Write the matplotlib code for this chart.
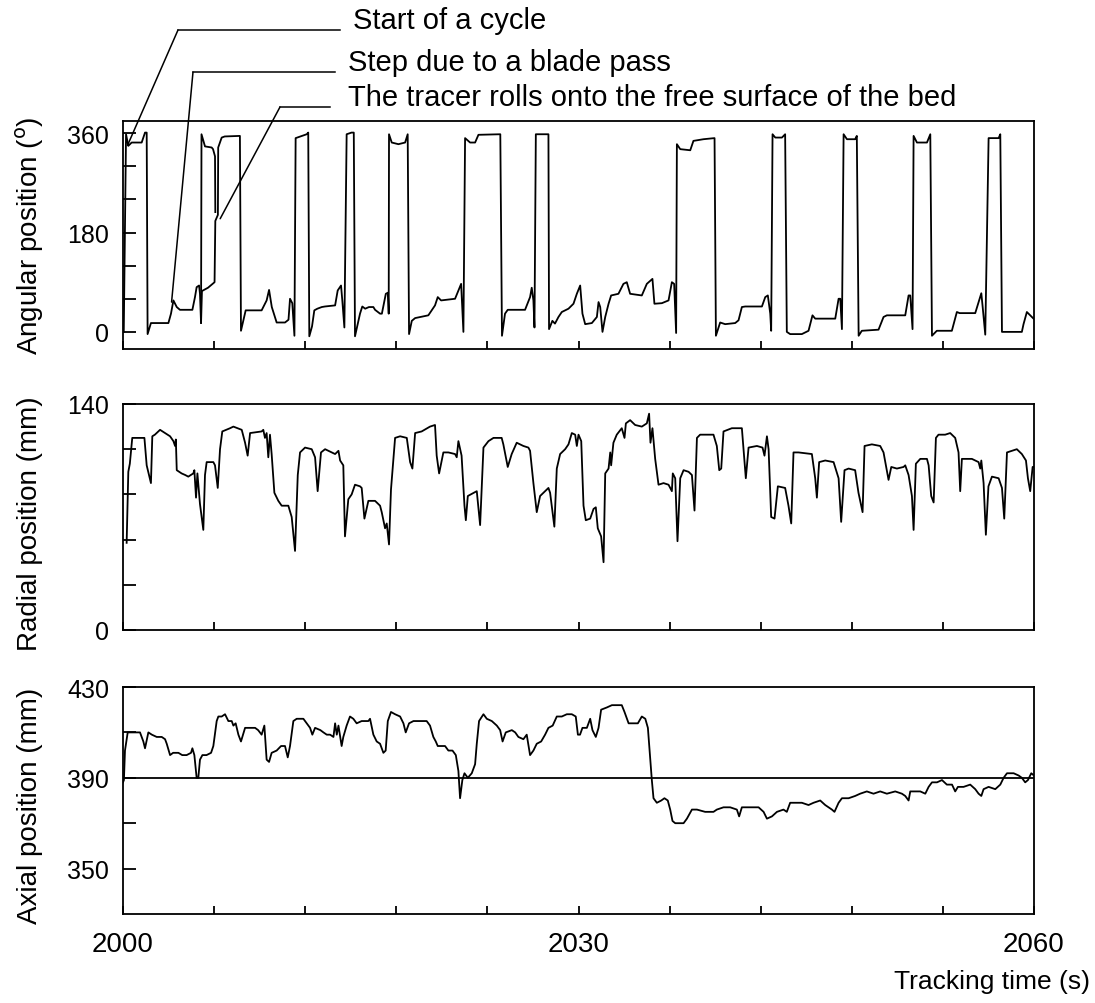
import matplotlib
matplotlib.use("Agg")
import matplotlib.pyplot as plt

plt.rcParams['font.family'] = ['Liberation Sans', 'DejaVu Sans']

# angular position (deg) vs tracking time (s)
ang_t = [2000.05, 2000.2, 2000.35, 2000.57, 2001.23, 2001.45, 2001.56, 2001.62, 2001.84, 2002.99,
         2003.16, 2003.32, 2003.54, 2003.75, 2004.57, 2004.74, 2004.85, 2005.01, 2005.07, 2005.14,
         2005.2, 2005.6, 2006.03, 2006.08, 2006.25, 2006.27, 2006.5, 2006.7, 2007.7, 2007.77,
         2008.08, 2009.13, 2009.46, 2009.62, 2009.8, 2010.12, 2010.67, 2010.9, 2011.0, 2011.15,
         2011.29, 2011.37, 2012.1, 2012.2, 2012.27, 2012.45, 2012.6, 2012.8, 2013.09, 2013.3,
         2013.97, 2014.14, 2014.36, 2014.45, 2014.58, 2014.73, 2015.05, 2015.2, 2015.28, 2015.61,
         2015.76, 2015.95, 2016.2, 2016.49, 2016.6, 2016.93, 2017.05, 2017.22, 2017.31, 2017.45,
         2017.5, 2017.52, 2017.7, 2018.14, 2018.58, 2018.75, 2018.84, 2019.02, 2019.24, 2020.11,
         2020.55, 2020.73, 2020.95, 2021.87, 2022.09, 2022.27, 2022.42, 2022.53, 2022.86, 2023.19,
         2023.41, 2024.73, 2024.85, 2024.96, 2025.16, 2025.34, 2026.48, 2026.81, 2026.92, 2027.03,
         2027.1, 2027.19, 2028.02, 2028.06, 2028.28, 2028.45, 2028.68, 2028.9, 2029.34, 2029.67,
         2029.89, 2030.11, 2030.26, 2030.44, 2030.88, 2031.21, 2031.32, 2031.43, 2031.58, 2031.76,
         2031.98, 2032.15, 2032.63, 2032.96, 2033.18, 2033.4, 2034.17, 2034.5, 2034.87, 2035.0,
         2035.49, 2035.93, 2036.15, 2036.3, 2036.43, 2036.48, 2036.7, 2037.36, 2037.57, 2038.23,
         2038.96, 2039.05, 2039.33, 2039.66, 2040.32, 2040.54, 2040.76, 2040.98, 2042.08, 2042.3,
         2042.47, 2042.63, 2042.69, 2042.78, 2042.96, 2043.4, 2043.61, 2043.72, 2043.94, 2044.71,
         2045.15, 2045.41, 2045.59, 2046.91, 2047.13, 2047.24, 2047.35, 2047.46, 2047.68, 2048.22,
         2048.33, 2048.45, 2048.66, 2049.76, 2050.09, 2050.31, 2051.52, 2051.74, 2051.85, 2052.0,
         2052.07, 2052.29, 2052.95, 2053.17, 2053.28, 2053.6, 2054.59, 2054.92, 2055.1, 2056.13,
         2056.53, 2056.62, 2056.79, 2057.01, 2057.67, 2057.78, 2057.89, 2058.3, 2059.2, 2059.31,
         2059.53, 2059.75, 2059.97]
ang_v = [0, 358, 337, 343, 343, 361, 361, -4, 16, 16,
         33, 57, 45, 40, 40, 63, 81, 84, 69, 16,
         74, 80, 90, 201, 212, 334, 352, 354, 355, 2,
         39, 39, 57, 76, 45, 17, 17, 22, 60, 52,
         -7, 351, 358, 361, -8, 10, 39, 42, 45, 46,
         48, 75, 84, 55, 8, 358, 361, 361, -8, 33,
         46, 42, 45, 45, 40, 33, 33, 57, 69, 71,
         33, 358, 343, 340, 343, 358, -4, 20, 25, 30,
         48, 63, 57, 60, 75, 87, 0, 351, 343, 343,
         357, 358, 358, -7, 33, 40, 40, 63, 80, 57,
         8, 358, 358, 5, 20, 15, 27, 36, 42, 51,
         69, 84, 33, 14, 16, 27, 54, 45, 0, 27,
         51, 66, 69, 87, 90, 69, 66, 87, 96, 51,
         52, 57, 90, 87, -2, 340, 331, 329, 346, 349,
         351, -7, 17, 14, 16, 21, 45, 46, 46, 63,
         66, 33, 2, 358, 352, 352, 358, 0, -4, -4,
         2, 30, 24, 24, 60, 60, 5, 358, 349, 349,
         355, -7, 2, 4, 27, 30, 30, 66, 66, 5,
         355, 343, 343, 358, -7, 2, 2, 36, 34, 34,
         70, 45, -5, 351, 351, 358, 0, 0, 0, 14,
         36, 30, 24]

# second angular trace drawn over the same interval after the blade pass
ang2_t = [2005.14, 2005.17, 2005.4, 2005.84, 2005.93, 2006.06, 2006.08]
ang2_v = [16, 358, 336, 334, 331, 318, 217]

# radial position (mm)
rad_t = [2000.24, 2000.35, 2000.45, 2000.61, 2001.12, 2001.41, 2001.56, 2001.84, 2001.93, 2002.1,
         2002.44, 2002.77, 2003.1, 2003.32, 2003.43, 2003.48, 2003.54, 2003.86, 2004.1, 2004.3,
         2004.63, 2004.7, 2004.81, 2004.9, 2005.07, 2005.22, 2005.29, 2005.4, 2005.51, 2005.95,
         2006.06, 2006.24, 2006.39, 2006.54, 2007.05, 2007.27, 2007.82, 2008.04, 2008.21, 2008.37,
         2009.13, 2009.24, 2009.35, 2009.46, 2009.57, 2009.68, 2009.79, 2009.97, 2010.23, 2010.45,
         2010.89, 2011.11, 2011.33, 2011.51, 2011.66, 2011.99, 2012.43, 2012.65, 2012.82, 2013.04,
         2013.31, 2013.97, 2014.19, 2014.3, 2014.51, 2014.62, 2014.84, 2015.06, 2015.28, 2015.61,
         2015.72, 2015.9, 2016.16, 2016.6, 2016.93, 2017.04, 2017.26, 2017.37, 2017.52, 2017.65,
         2017.92, 2018.25, 2018.69, 2018.91, 2019.06, 2019.24, 2019.67, 2020.22, 2020.55, 2020.66,
         2020.82, 2021.1, 2021.43, 2021.87, 2021.98, 2022.09, 2022.3, 2022.49, 2022.58, 2022.71,
         2023.3, 2023.52, 2023.74, 2024.07, 2024.4, 2024.94, 2025.05, 2025.34, 2025.6, 2025.93,
         2026.37, 2026.7, 2026.81, 2027.03, 2027.25, 2027.47, 2028.02, 2028.13, 2028.41, 2028.57,
         2028.79, 2029.12, 2029.34, 2029.56, 2029.78, 2029.89, 2030.0, 2030.18, 2030.33, 2030.48,
         2030.77, 2030.99, 2031.14, 2031.27, 2031.49, 2031.65, 2031.76, 2031.98, 2032.09, 2032.15,
         2032.3, 2032.52, 2032.85, 2033.03, 2033.12, 2033.4, 2033.73, 2034.17, 2034.5, 2034.65,
         2034.74, 2034.87, 2035.05, 2035.27, 2035.6, 2035.93, 2036.15, 2036.21, 2036.37, 2036.52,
         2036.7, 2036.92, 2037.25, 2037.47, 2037.64, 2037.8, 2038.01, 2038.89, 2039.11, 2039.27,
         2039.4, 2039.55, 2040.1, 2040.54, 2040.76, 2040.87, 2041.02, 2041.2, 2041.75, 2042.12,
         2042.25, 2042.41, 2042.52, 2042.69, 2042.91, 2043.13, 2043.61, 2043.83, 2044.01, 2044.16,
         2044.49, 2045.37, 2045.59, 2045.7, 2045.85, 2046.25, 2046.8, 2047.13, 2047.3, 2047.52,
         2047.79, 2048.22, 2048.44, 2048.71, 2048.84, 2049.32, 2049.87, 2050.09, 2050.42, 2050.6,
         2050.97, 2051.41, 2051.52, 2051.74, 2051.96, 2052.07, 2052.22, 2052.51, 2052.95, 2053.06,
         2053.23, 2053.39, 2053.54, 2053.71, 2054.15, 2054.48, 2054.81, 2055.03, 2055.14, 2055.25,
         2055.91, 2056.35, 2056.46, 2056.53, 2056.68, 2056.83, 2057.0, 2057.23, 2057.67, 2057.89,
         2058.04, 2058.22, 2058.55, 2058.87, 2059.2, 2059.47, 2059.6, 2059.75, 2059.91, 2060.0]
rad_v = [54, 98, 103, 119, 119, 119, 102, 91, 120, 121,
         124, 122, 120, 117, 114, 118, 99, 97, 96, 95,
         97, 99, 82, 97, 78, 67, 62, 96, 104, 104,
         102, 88, 112, 123, 125, 126, 124, 116, 108, 122,
         123, 124, 119, 122, 107, 121, 109, 85, 80, 77,
         77, 70, 49, 96, 110, 113, 112, 107, 86, 110,
         112, 109, 111, 105, 102, 58, 81, 84, 90, 89,
         88, 69, 80, 80, 77, 73, 63, 66, 53, 87,
         119, 120, 119, 104, 100, 122, 123, 126, 127, 108,
         97, 110, 110, 109, 107, 117, 108, 77, 68, 83,
         86, 65, 113, 117, 119, 119, 115, 101, 109, 116,
         114, 113, 111, 91, 73, 83, 88, 85, 64, 100,
         109, 112, 115, 122, 121, 114, 121, 117, 77, 68,
         69, 75, 76, 63, 58, 42, 97, 100, 110, 102,
         116, 121, 125, 119, 128, 130, 127, 126, 128, 134,
         116, 125, 106, 90, 91, 90, 86, 97, 94, 55,
         94, 99, 98, 96, 74, 119, 121, 121, 114, 99,
         100, 123, 125, 125, 125, 112, 94, 113, 114, 113,
         108, 120, 112, 70, 69, 89, 88, 77, 66, 110,
         110, 109, 94, 82, 104, 105, 104, 94, 67, 99,
         100, 99, 85, 73, 114, 115, 114, 110, 93, 101,
         100, 101, 102, 96, 83, 62, 103, 106, 106, 102,
         83, 79, 119, 121, 121, 122, 119, 110, 86, 106,
         106, 104, 100, 105, 91, 59, 89, 95, 94, 88,
         69, 110, 111, 112, 109, 105, 94, 86, 101, 101]

# axial position (mm)
axl_t = [2000.0, 2000.06, 2000.13, 2000.31, 2000.6, 2001.12, 2001.34, 2001.45, 2001.67, 2001.9,
         2002.22, 2002.55, 2002.77, 2002.88, 2003.1, 2003.3, 2003.65, 2003.9, 2004.19, 2004.48,
         2004.57, 2004.7, 2004.85, 2004.96, 2005.07, 2005.23, 2005.5, 2005.8, 2005.95, 2006.17,
         2006.28, 2006.5, 2006.72, 2006.94, 2007.16, 2007.27, 2007.42, 2007.6, 2007.77, 2008.04,
         2008.7, 2008.9, 2009.13, 2009.31, 2009.46, 2009.62, 2009.79, 2010.12, 2010.41, 2010.67,
         2010.85, 2011.0, 2011.22, 2011.44, 2011.88, 2012.1, 2012.32, 2012.47, 2012.65, 2013.0,
         2013.2, 2013.42, 2013.64, 2013.86, 2013.97, 2014.08, 2014.19, 2014.4, 2014.51, 2014.73,
         2014.95, 2015.17, 2015.39, 2015.72, 2016.16, 2016.27, 2016.49, 2016.71, 2016.93, 2017.15,
         2017.3, 2017.44, 2017.65, 2017.92, 2018.25, 2018.47, 2018.62, 2018.84, 2019.13, 2019.67,
         2020.0, 2020.22, 2020.44, 2020.6, 2020.73, 2020.88, 2021.21, 2021.43, 2021.7, 2021.92,
         2022.09, 2022.2, 2022.35, 2022.49, 2022.71, 2022.97, 2023.19, 2023.3, 2023.45, 2023.74,
         2023.96, 2024.29, 2024.62, 2024.84, 2025.0, 2025.21, 2025.61, 2025.83, 2026.04, 2026.37,
         2026.59, 2026.81, 2027.03, 2027.25, 2027.54, 2027.8, 2028.02, 2028.3, 2028.57, 2028.9,
         2029.23, 2029.56, 2029.82, 2029.96, 2030.1, 2030.26, 2030.55, 2030.77, 2030.92, 2031.14,
         2031.32, 2031.49, 2031.87, 2032.2, 2032.53, 2032.85, 2033.03, 2033.3, 2033.91, 2034.17,
         2034.4, 2034.57, 2034.72, 2034.83, 2034.94, 2035.16, 2035.45, 2035.66, 2035.88, 2036.04,
         2036.19, 2036.37, 2036.59, 2036.92, 2037.14, 2037.47, 2037.8, 2038.34, 2038.89, 2039.11,
         2039.55, 2039.99, 2040.43, 2040.58, 2040.76, 2041.42, 2041.86, 2042.19, 2042.41, 2042.74,
         2043.07, 2043.5, 2043.72, 2043.94, 2044.27, 2044.71, 2045.15, 2045.48, 2045.92, 2046.25,
         2046.69, 2046.86, 2047.13, 2047.35, 2047.79, 2048.22, 2048.55, 2048.99, 2049.43, 2049.87,
         2050.31, 2050.86, 2051.3, 2051.52, 2051.74, 2051.85, 2052.18, 2052.51, 2052.84, 2053.06,
         2053.28, 2053.61, 2053.94, 2054.26, 2054.6, 2054.81, 2054.99, 2055.36, 2055.8, 2056.13,
         2056.35, 2056.53, 2056.68, 2057.01, 2057.45, 2057.78, 2058.0, 2058.22, 2058.66, 2058.99,
         2059.2, 2059.42, 2059.6, 2059.82, 2060.0]
axl_v = [388, 389, 402, 410, 410, 410, 406, 403, 410, 409,
         408, 408, 407, 405, 400, 401, 401, 400, 400, 401,
         403, 400, 390, 390, 398, 400, 400, 401, 404, 415,
         417, 417, 418, 415, 415, 413, 414, 409, 406, 412,
         412, 411, 409, 413, 398, 397, 401, 402, 404, 404,
         399, 404, 415, 416, 416, 414, 412, 409, 412, 411,
         410, 409, 409, 408, 414, 409, 413, 404, 408, 413,
         417, 416, 414, 415, 415, 416, 409, 406, 405, 401,
         402, 415, 419, 418, 417, 414, 410, 414, 415, 415,
         415, 413, 408, 406, 404, 404, 404, 402, 402, 400,
         393, 381, 389, 392, 390, 392, 396, 405, 415, 418,
         416, 415, 413, 411, 406, 410, 411, 410, 408, 407,
         409, 400, 402, 405, 406, 409, 412, 413, 417, 417,
         418, 418, 417, 409, 409, 412, 412, 416, 411, 408,
         412, 420, 421, 422, 422, 422, 419, 414, 414, 417,
         416, 412, 399, 389, 381, 379, 380, 381, 380, 376,
         371, 370, 370, 370, 372, 376, 376, 375, 375, 376,
         377, 377, 376, 373, 377, 377, 377, 375, 372, 373,
         375, 376, 375, 379, 379, 379, 378, 379, 380, 378,
         376, 375, 379, 381, 381, 382, 383, 384, 383, 384,
         383, 384, 383, 382, 380, 384, 384, 384, 383, 386,
         388, 388, 389, 387, 387, 384, 386, 386, 387, 385,
         383, 382, 385, 386, 385, 387, 390, 392, 392, 391,
         390, 388, 389, 392, 391]

fig = plt.figure(figsize=(10.95, 10.04), dpi=100)
W, H = 1095.0, 1004.0


def add_panel(top, bottom):
    return fig.add_axes([123 / W, 1 - bottom / H, (1034 - 123) / W, (bottom - top) / H])


ax1 = add_panel(122, 350)
ax2 = add_panel(405, 631)
ax3 = add_panel(688, 915)

lw = 1.3
ax1.plot(ang_t, ang_v, color='black', lw=lw)
ax1.plot(ang2_t, ang2_v, color='black', lw=lw)
ax2.plot(rad_t, rad_v, color='black', lw=lw)
ax3.plot(axl_t, axl_v, color='black', lw=lw)
ax3.axhline(390, color='black', lw=lw)

ax1.set_ylim(-31, 382)
ax1.set_yticks([0, 60, 120, 180, 240, 300, 360])
ax1.set_yticklabels(['0', '', '', '180', '', '', '360'])
ax2.set_ylim(0, 140)
ax2.set_yticks([0, 28, 56, 84, 112, 140])
ax2.set_yticklabels(['0', '', '', '', '', '140'])
ax3.set_ylim(330, 430)
ax3.set_yticks([350, 370, 390, 410, 430])
ax3.set_yticklabels(['350', '', '390', '', '430'])

fs = 20
xt = list(range(2000, 2061, 6))
for ax in (ax1, ax2, ax3):
    ax.set_xlim(2000, 2060)
    ax.set_xticks(xt)
    ax.set_xticklabels([])
    ax.tick_params(axis='x', direction='in', length=6, width=1.3)
    ax.tick_params(axis='y', direction='in', length=9, width=1.3, labelsize=18, pad=10)
    for s in ax.spines.values():
        s.set_linewidth(1.3)
ax3.set_xticks([2000, 2030, 2060], minor=False)
ax3.set_xticks(xt, minor=True)
ax3.set_xticklabels(['2000', '2030', '2060'])
ax3.tick_params(axis='x', which='both', direction='in', length=6, width=1.3, labelsize=fs, pad=12)

fig.text(30 / W, 1 - 236 / H, 'Angular position ($^{\\rm o}$)', rotation=90, ha='center', va='center', fontsize=fs)
fig.text(30 / W, 1 - 524 / H, 'Radial position (mm)', rotation=90, ha='center', va='center', fontsize=fs)
fig.text(30 / W, 1 - 806 / H, 'Axial position (mm)', rotation=90, ha='center', va='center', fontsize=fs)
fig.text(1090 / W, 1 - 982 / H, 'Tracking time (s)', ha='right', va='center', fontsize=19)

# annotations: text, x of text start, elbow point (pixels), data target
notes = [('Start of a cycle', 21, 353, 178, 340, (2000.3, 338)),
         ('Step due to a blade pass', 63, 348, 193, 335, (2003.2, 54)),
         ('The tracer rolls onto the free surface of the bed', 98, 348, 280, 330, (2006.4, 205))]
for txt, ty, tx, ex, lx, target in notes:
    ly = ty + 10
    fig.text(tx / W, 1 - ty / H, txt, ha='left', va='center', fontsize=21)
    fig.add_artist(plt.Line2D([ex / W, lx / W], [1 - ly / H, 1 - ly / H], color='black', lw=1.1))
    ax1.annotate('', xy=target, xycoords='data', xytext=(ex / W, 1 - ly / H),
                 textcoords='figure fraction',
                 arrowprops=dict(arrowstyle='-', color='black', lw=1.1, shrinkA=0, shrinkB=0),
                 annotation_clip=False)

fig.savefig('out.png', dpi=100)
